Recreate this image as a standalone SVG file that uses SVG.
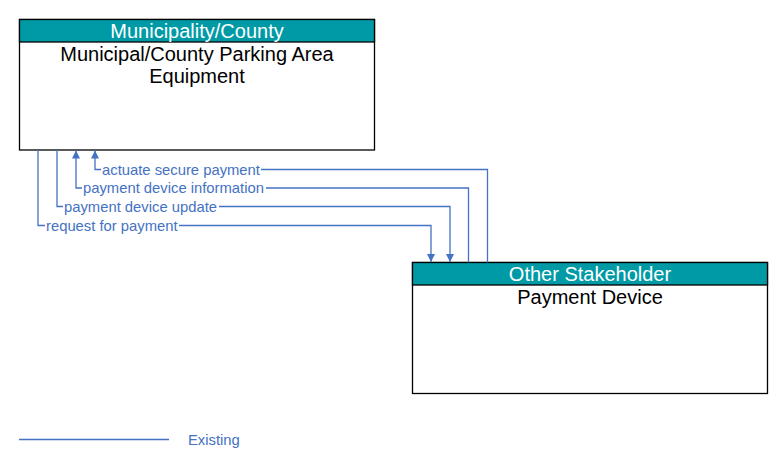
<svg xmlns="http://www.w3.org/2000/svg" width="783" height="468" viewBox="0 0 783 468">
<style>
.box{fill:#fff;stroke:#000;stroke-width:1.3}
.hdr{fill:#009AA6;stroke:#000;stroke-width:1.3}
.ht{font-family:"Liberation Sans",Arial,sans-serif;font-size:20px;fill:#fff;text-anchor:middle}
.bt{font-family:"Liberation Sans",Arial,sans-serif;font-size:20px;fill:#000;text-anchor:middle}
.ln{fill:none;stroke:#4472C4;stroke-width:1.3}
.lb{font-family:"Liberation Sans",Arial,sans-serif;font-size:14.8px;fill:#4472C4}
.bg{fill:#fff}
</style>
<defs>
<marker id="arr" viewBox="0 0 10 10" refX="10" refY="5" markerWidth="8" markerHeight="8" markerUnits="userSpaceOnUse" orient="auto">
<path d="M0,0 L10,5 L0,10 Z" fill="#4472C4"/>
</marker>
</defs>
<rect width="783" height="468" fill="#fff"/>
<g id="node-parking">
<rect class="box" x="19.5" y="19.5" width="355" height="130.5"/>
<rect class="hdr" x="19.5" y="19.5" width="355" height="22.5"/>
<text class="ht" x="197" y="37.5">Municipality/County</text>
<text class="bt" x="197" y="60.5">Municipal/County Parking Area</text>
<text class="bt" x="197" y="82.5">Equipment</text>
</g>
<g id="node-payment">
<rect class="box" x="412.5" y="262.5" width="355" height="131"/>
<rect class="hdr" x="412.5" y="262.5" width="355" height="22.5"/>
<text class="ht" x="590" y="280.5">Other Stakeholder</text>
<text class="bt" x="590" y="303.5">Payment Device</text>
</g>
<g id="connectors">
<path class="ln" d="M487.5,262.5 V169.5 H95 V150.5" marker-end="url(#arr)"/>
<path class="ln" d="M468.5,262.5 V188 H76 V150.5" marker-end="url(#arr)"/>
<path class="ln" d="M57,150 V206.5 H450 V262" marker-end="url(#arr)"/>
<path class="ln" d="M38,150 V225.5 H431 V262" marker-end="url(#arr)"/>
<rect class="bg" x="101" y="162" width="160" height="14"/>
<text class="lb" x="102" y="174.5">actuate secure payment</text>
<rect class="bg" x="82" y="181" width="184" height="14"/>
<text class="lb" x="83" y="193">payment device information</text>
<rect class="bg" x="63" y="199" width="156" height="14"/>
<text class="lb" x="64" y="211.5">payment device update</text>
<rect class="bg" x="45" y="218" width="134" height="14"/>
<text class="lb" x="46" y="230.5">request for payment</text>
</g>
<g id="legend">
<line class="ln" x1="19" y1="439.5" x2="169" y2="439.5"/>
<text class="lb" x="188" y="445">Existing</text>
</g>
</svg>
